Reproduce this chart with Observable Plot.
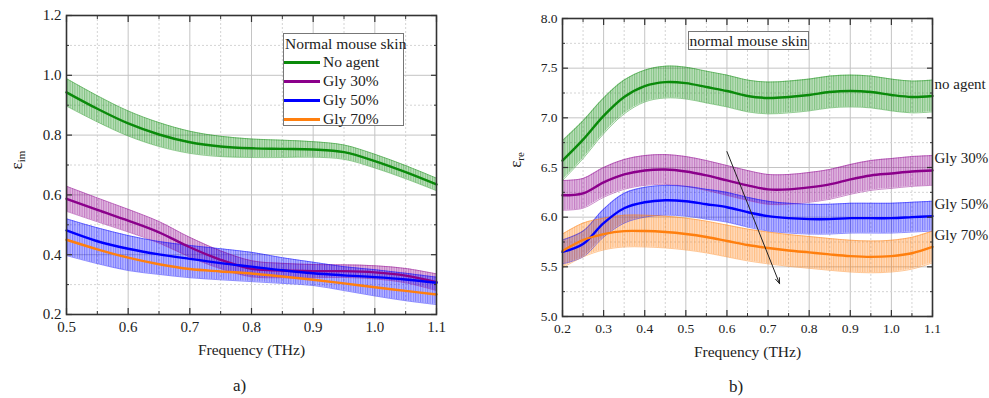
<!DOCTYPE html>
<html><head><meta charset="utf-8">
<script src="https://cdn.jsdelivr.net/npm/d3@7"></script>
<script src="https://cdn.jsdelivr.net/npm/@observablehq/plot@0.6"></script>
<style>
body{margin:0;background:#fff;font-family:"Liberation Serif","Times New Roman",serif;color:#222}
#wrap{position:relative;width:989px;height:398px;overflow:hidden}
.panel{position:absolute;top:0}
.cap{position:absolute;font-size:17px}
.ylab{position:absolute;font-size:17px;transform:rotate(-90deg);transform-origin:center;white-space:nowrap}
.ylab sub{font-size:11px;vertical-align:-3px}
#legA{position:absolute;left:283px;top:33px;width:121px;height:93px;border:1px solid #777;background:#fff;box-sizing:border-box;font-size:15.5px}
#legA .t{position:absolute;left:1px;top:1px;white-space:nowrap}
#legA .row{position:absolute;left:0;height:19px;white-space:nowrap}
#legA .sw{position:absolute;left:0;top:9px;width:36px;height:2.5px}
#legA .lt{position:absolute;left:39px;top:0px;line-height:19px}
#boxB{position:absolute;left:688px;top:31px;width:121px;height:19px;border:1px solid #777;background:#fff;box-sizing:border-box;font-size:15.5px;line-height:17px;text-align:center;white-space:nowrap}
</style></head>
<body><div id="wrap"></div>
<script>
// ---------- data: panel a) imaginary part ----------
const freqA = [0.5,0.55,0.6,0.65,0.7,0.75,0.8,0.85,0.9,0.95,1.0,1.05,1.1];
const noAgentIm = [0.943,0.888,0.839,0.802,0.776,0.762,0.756,0.754,0.752,0.743,0.713,0.676,0.635];
const noAgentImErr = [0.046,0.044,0.042,0.040,0.037,0.034,0.031,0.029,0.026,0.024,0.023,0.022,0.021];
const gly30Im = [0.587,0.550,0.514,0.475,0.425,0.383,0.353,0.347,0.345,0.345,0.341,0.330,0.308];
const gly30ImErr = [0.042,0.040,0.038,0.036,0.033,0.030,0.027,0.024,0.022,0.021,0.022,0.024,0.028];
const gly50Im = [0.481,0.445,0.420,0.401,0.386,0.372,0.360,0.348,0.338,0.331,0.325,0.317,0.306];
const gly50ImLo = [0.397,0.370,0.347,0.334,0.323,0.316,0.310,0.304,0.297,0.280,0.262,0.246,0.233];
const gly50ImHi = [0.520,0.490,0.464,0.444,0.431,0.420,0.408,0.390,0.375,0.360,0.350,0.338,0.325];
const gly70Im = [0.450,0.418,0.390,0.368,0.352,0.344,0.337,0.327,0.316,0.304,0.291,0.279,0.267];

// ---------- data: panel b) real part ----------
const freqB = [0.2,0.25,0.3,0.35,0.4,0.45,0.5,0.55,0.6,0.65,0.7,0.75,0.8,0.85,0.9,0.95,1.0,1.05,1.1];
const noAgentRe = [6.57,6.78,7.02,7.21,7.32,7.36,7.35,7.31,7.27,7.22,7.20,7.21,7.23,7.26,7.27,7.26,7.23,7.21,7.22];
const noAgentReErr = [0.20,0.19,0.18,0.17,0.16,0.16,0.16,0.16,0.16,0.16,0.16,0.16,0.16,0.16,0.16,0.16,0.16,0.16,0.16];
const gly30Re = [6.22,6.24,6.35,6.43,6.47,6.48,6.46,6.42,6.37,6.32,6.28,6.28,6.30,6.33,6.38,6.42,6.44,6.46,6.47];
const gly30ReErr = [0.15,0.15,0.15,0.15,0.15,0.15,0.15,0.15,0.15,0.15,0.15,0.15,0.15,0.15,0.15,0.15,0.15,0.15,0.15];
const gly50Re = [5.65,5.73,5.94,6.09,6.15,6.17,6.16,6.13,6.10,6.05,6.01,5.99,5.98,5.98,5.99,5.99,5.99,6.00,6.01];
const gly50ReErr = [0.12,0.13,0.14,0.15,0.15,0.15,0.15,0.15,0.15,0.15,0.15,0.15,0.15,0.15,0.15,0.15,0.15,0.15,0.15];
const gly70Re = [5.66,5.77,5.83,5.86,5.86,5.85,5.83,5.80,5.76,5.72,5.69,5.665,5.645,5.625,5.608,5.600,5.608,5.637,5.70];
const gly70ReErr = [0.17,0.17,0.16,0.16,0.16,0.16,0.16,0.16,0.16,0.16,0.16,0.16,0.16,0.16,0.16,0.16,0.16,0.16,0.16];

const seriesNames = ["No agent","Gly 30%","Gly 50%","Gly 70%"];
const seriesLabelsB = ["no agent","Gly 30%","Gly 50%","Gly 70%"];
const arrowB = [{x1:0.60, y1:6.66, x2:0.728, y2:5.33}];

// tick values
const xMajorA = [0.5,0.6,0.7,0.8,0.9,1.0,1.1];
const xMinorA = [0.55,0.65,0.75,0.85,0.95,1.05];
const yMajorA = [0.2,0.4,0.6,0.8,1.0,1.2];
const yMinorA = [0.3,0.5,0.7,0.9,1.1];
const xMajorB = [0.2,0.3,0.4,0.5,0.6,0.7,0.8,0.9,1.0,1.1];
const xMinorB = [0.25,0.35,0.45,0.55,0.65,0.75,0.85,0.95,1.05];
const yMajorB = [5.0,5.5,6.0,6.5,7.0,7.5,8.0];
const yMinorB = [5.25,5.75,6.25,6.75,7.25,7.75];

// ---------- styles ----------
const colors = ["#0a8a0a","#8b008b","#0000ff","#ff7f0e"];
const font = '"Liberation Serif","Times New Roman",serif';

function rowsSym(freq, vals, errs, s) {
  return freq.map((f, i) => ({f, v: vals[i], lo: errs ? vals[i] - errs[i] : null, hi: errs ? vals[i] + errs[i] : null, s}));
}
function rowsBand(freq, vals, lo, hi, s) {
  return freq.map((f, i) => ({f, v: vals[i], lo: lo[i], hi: hi[i], s}));
}

function addPatterns(svg, prefix) {
  const defs = d3.select(svg).insert("defs", ":first-child");
  colors.forEach((c, k) => {
    const p = defs.append("pattern").attr("id", prefix + k)
      .attr("patternUnits", "userSpaceOnUse").attr("width", 2.4).attr("height", 10);
    p.append("rect").attr("width", 2.4).attr("height", 10).attr("fill", c).attr("fill-opacity", 0.27);
    p.append("line").attr("x1", 0.6).attr("x2", 0.6).attr("y1", 0).attr("y2", 10)
      .attr("stroke", c).attr("stroke-opacity", 0.5).attr("stroke-width", 0.8);
  });
}

function panel({series, xDomain, yDomain, xMaj, xMin, yMaj, yMin, width, ml, mr, mt, mb, prefix, tickFont, extra}) {
  const curve = "catmull-rom";
  const marks = [
    Plot.gridX(xMaj, {stroke: "#c4c4c4", strokeOpacity: 1, strokeWidth: 1}),
    Plot.gridX(xMin, {stroke: "#d4d4d4", strokeOpacity: 1, strokeDasharray: "2,2"}),
    Plot.gridY(yMaj, {stroke: "#c4c4c4", strokeOpacity: 1, strokeWidth: 1}),
    Plot.gridY(yMin, {stroke: "#d4d4d4", strokeOpacity: 1, strokeDasharray: "2,2"})
  ];
  const banded = series.map(rows => rows.every(r => r.lo != null));
  series.forEach((rows, k) => {
    if (banded[k]) marks.push(Plot.areaY(rows, {x: "f", y1: "lo", y2: "hi", fill: `url(#${prefix}${k})`, curve}));
  });
  series.forEach((rows, k) => {
    if (banded[k]) {
      marks.push(Plot.line(rows, {x: "f", y: "lo", stroke: colors[k], strokeOpacity: 0.55, strokeWidth: 0.8, curve}));
      marks.push(Plot.line(rows, {x: "f", y: "hi", stroke: colors[k], strokeOpacity: 0.55, strokeWidth: 0.8, curve}));
    }
  });
  series.forEach((rows, k) => {
    marks.push(Plot.line(rows, {x: "f", y: "v", stroke: colors[k], strokeWidth: 2.4, curve}));
  });
  marks.push(
    Plot.axisX(xMaj, {anchor: "bottom", tickSize: -6, fill: "none", stroke: "#333", strokeWidth: 1.2, label: null}),
    Plot.axisX(xMin, {anchor: "bottom", tickSize: -3, fill: "none", stroke: "#333", label: null}),
    Plot.axisX(xMaj, {anchor: "top", tickSize: -6, fill: "none", stroke: "#333", strokeWidth: 1.2, label: null}),
    Plot.axisX(xMin, {anchor: "top", tickSize: -3, fill: "none", stroke: "#333", label: null}),
    Plot.axisY(yMaj, {anchor: "left", tickSize: -6, fill: "none", stroke: "#333", strokeWidth: 1.2, label: null}),
    Plot.axisY(yMin, {anchor: "left", tickSize: -3, fill: "none", stroke: "#333", label: null}),
    Plot.axisY(yMaj, {anchor: "right", tickSize: -6, fill: "none", stroke: "#333", strokeWidth: 1.2, label: null}),
    Plot.axisY(yMin, {anchor: "right", tickSize: -3, fill: "none", stroke: "#333", label: null}),
    Plot.axisX(xMaj, {anchor: "bottom", tickSize: 0, tickPadding: 7, fontSize: tickFont, fill: "#222", label: null, tickFormat: d3.format(".1f")}),
    Plot.axisY(yMaj, {anchor: "left", tickSize: 0, tickPadding: 5, fontSize: tickFont, fill: "#222", label: null, tickFormat: d3.format(".1f")}),
    Plot.text(["Frequency (THz)"], {frameAnchor: "bottom", dy: 40, fontSize: 15.5, fill: "#222"}),
    Plot.frame({stroke: "#333", strokeWidth: 1.6})
  );
  if (extra) marks.push(...extra);
  const svg = Plot.plot({
    width, height: 370,
    marginLeft: ml, marginRight: mr, marginTop: mt, marginBottom: mb,
    style: {fontFamily: font, background: "transparent", overflow: "visible"},
    x: {domain: xDomain},
    y: {domain: yDomain},
    marks
  });
  addPatterns(svg, prefix);
  return svg;
}

const wrap = document.getElementById("wrap");

// Panel a)
const seriesA = [
  rowsSym(freqA, noAgentIm, noAgentImErr, seriesNames[0]),
  rowsSym(freqA, gly30Im, gly30ImErr, seriesNames[1]),
  rowsBand(freqA, gly50Im, gly50ImLo, gly50ImHi, seriesNames[2]),
  rowsSym(freqA, gly70Im, null, seriesNames[3])
];
const svgA = panel({series: seriesA, xDomain: [0.5, 1.1], yDomain: [0.2, 1.2],
  xMaj: xMajorA, xMin: xMinorA, yMaj: yMajorA, yMin: yMinorA,
  width: 480, ml: 66, mr: 44, mt: 15, mb: 56, prefix: "pa", tickFont: 15});
const divA = document.createElement("div"); divA.className = "panel"; divA.style.left = "0px";
divA.appendChild(svgA); wrap.appendChild(divA);

// Panel b)
const seriesB = [
  rowsSym(freqB, noAgentRe, noAgentReErr, seriesLabelsB[0]),
  rowsSym(freqB, gly30Re, gly30ReErr, seriesLabelsB[1]),
  rowsSym(freqB, gly50Re, gly50ReErr, seriesLabelsB[2]),
  rowsSym(freqB, gly70Re, gly70ReErr, seriesLabelsB[3])
];
const endLabels = seriesB.map(rows => rows[rows.length - 1]);
const svgB = panel({series: seriesB, xDomain: [0.2, 1.1], yDomain: [5, 8],
  xMaj: xMajorB, xMin: xMinorB, yMaj: yMajorB, yMin: yMinorB,
  width: 499, ml: 72, mr: 57, mt: 18, mb: 54, prefix: "pb", tickFont: 13.5,
  extra: [
    Plot.arrow(arrowB, {x1: "x1", y1: "y1", x2: "x2", y2: "y2", stroke: "#222", strokeWidth: 1, headLength: 9, headAngle: 40}),
    Plot.text(endLabels, {x: "f", y: "v", text: "s", textAnchor: "start", dx: 2, dy: -12, fontSize: 15, fill: "#222", clip: false})
  ]});
const divB = document.createElement("div"); divB.className = "panel"; divB.style.left = "490px";
divB.appendChild(svgB); wrap.appendChild(divB);

// Legend panel a)
const leg = document.createElement("div"); leg.id = "legA";
leg.innerHTML = `<div class="t">Normal mouse skin</div>` +
  seriesNames.map((n, k) => `<div class="row" style="top:${18 + k * 19}px"><div class="sw" style="background:${colors[k]}"></div><div class="lt">${n}</div></div>`).join("");
wrap.appendChild(leg);

// Box panel b)
const box = document.createElement("div"); box.id = "boxB"; box.textContent = "normal mouse skin";
wrap.appendChild(box);

// Y labels and captions
function addDiv(cls, html, left, top) {
  const d = document.createElement("div"); d.className = cls; d.innerHTML = html;
  d.style.left = left + "px"; d.style.top = top + "px"; wrap.appendChild(d); return d;
}
addDiv("ylab", "ε<sub>im</sub>", 8, 150);
addDiv("ylab", "ε<sub>re</sub>", 508, 150);
addDiv("cap", "a)", 233, 376);
addDiv("cap", "b)", 729, 377);
</script>
</body></html>
